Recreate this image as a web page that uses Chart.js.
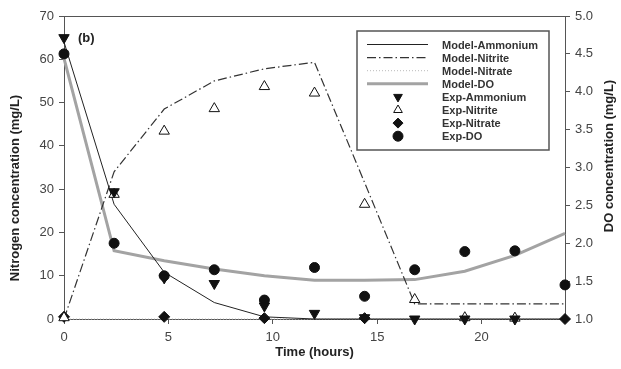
<!DOCTYPE html>
<html lang="en">
<head>
    <meta charset="UTF-8">
    <title>Nitrogen and DO profile</title>
    <script src="https://cdn.jsdelivr.net/npm/chart.js"></script>
    <style>
        body { margin:0; background:#fff; }
    </style>
</head>
<body>
    <canvas id="myChart" width="621" height="369"></canvas>

    <script>
        // time points (hours)
        const hours = [0, 2.4, 4.8, 7.2, 9.6, 12, 14.4, 16.8, 19.2, 21.6, 24];
        const xTicks = [0, 5, 10, 15, 20];

        // model curves
        const modelAmmonium = [64, 26.5, 10.8, 3.8, 0.5, 0, 0, 0, 0, 0, 0];
        const modelNitrite  = [0, 34, 48.5, 55, 57.8, 59.3, 31.5, 3.5, 3.5, 3.5, 3.5];
        const modelNitrate  = [0, 0, 0, 0, 0, 0, 0, 0, 0, 0, 0];
        const modelDO       = [4.44, 1.9, 1.77, 1.66, 1.57, 1.51, 1.51, 1.52, 1.63, 1.84, 2.13];

        // experimental points
        const expAmmonium = [65, 29.4, 9.5, 8.2, 3.0, 1.3, 0.3, 0, 0, 0, null];
        const expNitrite  = [0.3, 28.8, 43.4, 48.6, 53.7, 52.2, 26.5, 4.5, 0.3, 0.2, null];
        const expNitrate  = [0.5, null, 0.5, null, 0.2, null, 0.2, null, null, null, 0];
        const expDO       = [4.5, 2.0, 1.57, 1.65, 1.25, 1.68, 1.3, 1.65, 1.89, 1.9, 1.45];

        const pts = (arr) => hours.map((h, i) => ({x: h, y: arr[i]})).filter(p => p.y !== null);

        const lineSet = (label, arr, axis, color, width, dash) => ({
            type: 'line', label: label, data: pts(arr), yAxisID: axis,
            borderColor: color, borderWidth: width, borderDash: dash,
            pointRadius: 0, fill: false, tension: 0, order: 1, clip: false
        });
        const markSet = (label, arr, axis, style, rot, fillCol, r) => ({
            type: 'scatter', label: label, data: pts(arr), yAxisID: axis,
            pointStyle: style, rotation: rot, pointRadius: r, pointHoverRadius: r,
            backgroundColor: fillCol, borderColor: '#111', borderWidth: 1,
            showLine: false, order: 0, clip: false
        });

        const datasets = [
            lineSet('Model-Ammonium', modelAmmonium, 'y', '#222', 1, []),
            lineSet('Model-Nitrite', modelNitrite, 'y', '#333', 1.2, [9, 3, 1.5, 3]),
            lineSet('Model-Nitrate', modelNitrate, 'y', '#bbb', 1, [1, 2]),
            lineSet('Model-DO', modelDO, 'y1', '#a3a3a3', 3, []),
            markSet('Exp-Ammonium', expAmmonium, 'y', 'triangle', 180, '#111', 6),
            markSet('Exp-Nitrite', expNitrite, 'y', 'triangle', 0, '#fff', 6),
            markSet('Exp-Nitrate', expNitrate, 'y', 'rectRot', 0, '#111', 5.5),
            markSet('Exp-DO', expDO, 'y1', 'circle', 0, '#111', 5)
        ];

        // legend box, axis titles, frame top
        const extras = {
            id: 'extras',
            afterDraw(chart) {
                const ctx = chart.ctx;
                const a = chart.chartArea;
                ctx.save();
                ctx.strokeStyle = '#555';
                ctx.lineWidth = 1;
                ctx.beginPath();
                ctx.moveTo(a.left, a.top + 0.5);
                ctx.lineTo(a.right, a.top + 0.5);
                ctx.stroke();

                ctx.fillStyle = '#222';
                ctx.font = 'bold 13px "Liberation Sans", Arial, sans-serif';
                ctx.textAlign = 'left';
                ctx.textBaseline = 'middle';
                ctx.fillText('(b)', 78, 38);

                ctx.textAlign = 'center';
                ctx.fillText('Time (hours)', (a.left + a.right) / 2, 352);
                ctx.save();
                ctx.translate(15, 188);
                ctx.rotate(-Math.PI / 2);
                ctx.fillText('Nitrogen concentration (mg/L)', 0, 0);
                ctx.restore();
                ctx.save();
                ctx.translate(609, 156);
                ctx.rotate(-Math.PI / 2);
                ctx.fillText('DO concentration (mg/L)', 0, 0);
                ctx.restore();

                // legend
                const bx = 357, by = 31, bw = 192, bh = 119;
                ctx.fillStyle = '#fff';
                ctx.fillRect(bx, by, bw, bh);
                ctx.strokeStyle = '#555';
                ctx.lineWidth = 1.5;
                ctx.strokeRect(bx, by, bw, bh);
                ctx.font = 'bold 11px "Liberation Sans", Arial, sans-serif';
                ctx.textAlign = 'left';
                chart.data.datasets.forEach((ds, i) => {
                    const y = 44.5 + i * 13.1;
                    if (ds.type === 'line') {
                        ctx.save();
                        ctx.strokeStyle = ds.borderColor;
                        ctx.lineWidth = ds.borderWidth;
                        ctx.setLineDash(ds.borderDash);
                        ctx.beginPath();
                        ctx.moveTo(367, y);
                        ctx.lineTo(428, y);
                        ctx.stroke();
                        ctx.restore();
                    } else {
                        ctx.save();
                        ctx.fillStyle = ds.backgroundColor;
                        ctx.strokeStyle = ds.borderColor;
                        ctx.lineWidth = 1;
                        Chart.helpers.drawPoint(ctx, {
                            pointStyle: ds.pointStyle, radius: 5,
                            rotation: ds.rotation, borderWidth: 1
                        }, 398, y);
                        ctx.restore();
                    }
                    ctx.fillStyle = '#333';
                    ctx.fillText(ds.label, 442, y + 1);
                });
                ctx.restore();
            }
        };

        const tickFont = { family: '"Liberation Sans", Arial, sans-serif', size: 13 };
        const axisGrid = { drawOnChartArea: false, drawTicks: true, tickLength: 5, color: '#555' };

        new Chart(document.getElementById('myChart'), {
            data: { datasets: datasets },
            options: {
                responsive: false,
                animation: false,
                layout: { padding: { top: 16, left: 0, right: 0, bottom: 0 } },
                plugins: { legend: { display: false }, tooltip: { enabled: false } },
                scales: {
                    x: {
                        type: 'linear', min: 0, max: 24,
                        afterBuildTicks: s => { s.ticks = xTicks.map(v => ({ value: v })); },
                        afterFit: s => { s.height = 50; },
                        grid: axisGrid,
                        border: { color: '#555', width: 1 },
                        ticks: { font: tickFont, color: '#444', padding: 6 }
                    },
                    y: {
                        position: 'left', min: 0, max: 70,
                        afterFit: s => { s.width = 64; },
                        grid: axisGrid,
                        border: { color: '#555', width: 1 },
                        ticks: { stepSize: 10, font: tickFont, color: '#444', padding: 5 }
                    },
                    y1: {
                        position: 'right', min: 1, max: 5,
                        afterFit: s => { s.width = 56; },
                        grid: axisGrid,
                        border: { color: '#555', width: 1 },
                        ticks: { stepSize: 0.5, font: tickFont, color: '#444', padding: 5,
                                 callback: v => v.toFixed(1) }
                    }
                }
            },
            plugins: [extras]
        });
    </script>
</body>
</html>
